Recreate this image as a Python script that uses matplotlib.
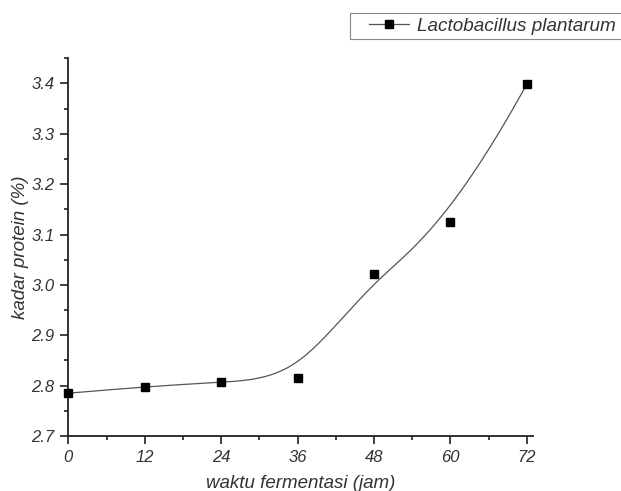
import numpy as np
import matplotlib
matplotlib.use('Agg')
import matplotlib.pyplot as plt
from matplotlib.ticker import MultipleLocator
from matplotlib.patches import Rectangle

# data
waktu = [0, 12, 24, 36, 48, 60, 72]
protein = [2.785, 2.798, 2.807, 2.815, 3.022, 3.124, 3.399]
label = 'Lactobacillus plantarum'


def bspline(px, py, k=3, n=300):
    # clamped B-spline using the data points as control points
    m = len(px)
    knots = np.concatenate([np.zeros(k), np.arange(m - k + 1), np.full(k, m - k)]).astype(float)
    t = np.linspace(0, m - k, n)
    t[-1] -= 1e-9

    def basis(i, d, t):
        if d == 0:
            return ((knots[i] <= t) & (t < knots[i + 1])).astype(float)
        a = 0.0
        b = 0.0
        if knots[i + d] != knots[i]:
            a = (t - knots[i]) / (knots[i + d] - knots[i]) * basis(i, d - 1, t)
        if knots[i + d + 1] != knots[i + 1]:
            b = (knots[i + d + 1] - t) / (knots[i + d + 1] - knots[i + 1]) * basis(i + 1, d - 1, t)
        return a + b

    B = np.array([basis(i, k, t) for i in range(m)])
    return np.dot(np.array(px, float), B), np.dot(np.array(py, float), B)


plt.rcParams['font.family'] = ['Liberation Sans', 'DejaVu Sans']

W, H = 621, 491
fig = plt.figure(figsize=(W / 100, H / 100), dpi=100)
ax = fig.add_axes([68.3 / W, 1 - 436 / H, 465 / W, (436 - 58.3) / H])

sx, sy = bspline(waktu, protein)
ax.plot(sx, sy, color='#555555', lw=0.9, zorder=2)
ax.plot(waktu, protein, 's', color='black', ms=5.8, zorder=3, clip_on=False)

ax.set_xlim(0, 73)
ax.set_ylim(2.7, 3.45)
ax.xaxis.set_major_locator(MultipleLocator(12))
ax.xaxis.set_minor_locator(MultipleLocator(6))
ax.yaxis.set_major_locator(MultipleLocator(0.1))
ax.yaxis.set_minor_locator(MultipleLocator(0.05))
ax.yaxis.set_major_formatter(matplotlib.ticker.FormatStrFormatter('%.1f'))

for s in ['top', 'right']:
    ax.spines[s].set_visible(False)
for s in ['left', 'bottom']:
    ax.spines[s].set_linewidth(1.3)
    ax.spines[s].set_color('#222222')

ax.tick_params(which='major', direction='out', length=6, width=1.2, color='#222222',
               labelsize=12, labelcolor='#333333', pad=4)
ax.tick_params(which='minor', direction='out', length=3, width=1.2, color='#222222')
for t in ax.get_xticklabels() + ax.get_yticklabels():
    t.set_style('italic')

ax.set_xlabel('waktu fermentasi (jam)', fontsize=13.5, style='italic', color='#333333', labelpad=7)
ax.set_ylabel('kadar protein (%)', fontsize=13.5, style='italic', color='#333333', labelpad=2)

# legend box (runs past the right edge like the original)
fig.patches.append(Rectangle((350 / W, 1 - 39 / H), 280 / W, 26 / H, transform=fig.transFigure,
                             fill=False, edgecolor='#888888', lw=0.8))
handle = plt.Line2D([], [], color='#555555', lw=0.9, marker='s', mfc='black', mec='black', ms=5.8)
leg = fig.legend([handle], [label], loc='center left', bbox_to_anchor=(369 / W, 1 - 26 / H),
                 frameon=False, fontsize=13.6, handlelength=2.1, borderpad=0.0,
                 borderaxespad=0.0, handletextpad=0.45)
for t in leg.get_texts():
    t.set_style('italic')
    t.set_color('#333333')

fig.savefig('out.png', dpi=100)
